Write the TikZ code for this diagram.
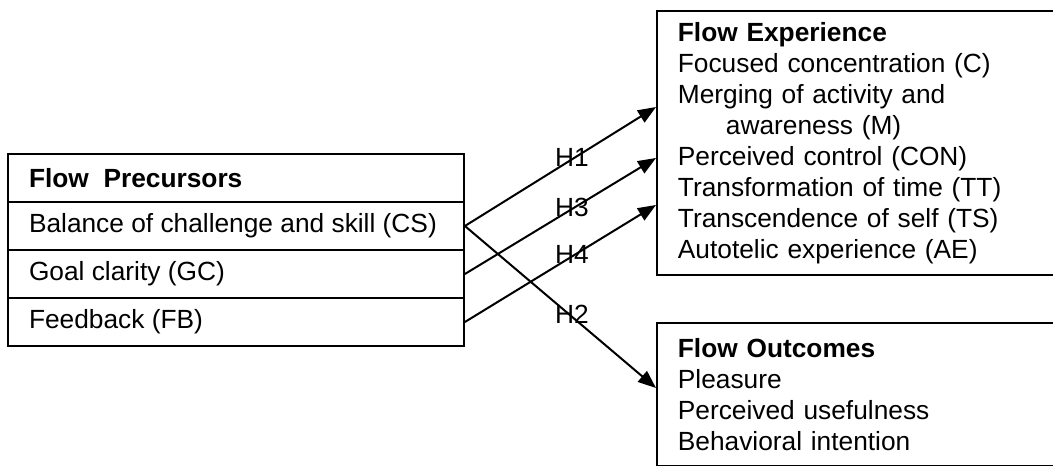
\documentclass[tikz,border=0pt]{standalone}
\usepackage{fontspec}
\setmainfont{Liberation Sans}
\usetikzlibrary{arrows.meta}
\begin{document}
\begin{tikzpicture}[
  x=1pt, y=-1pt,
  every node/.style={font=\fontsize{26.3}{31}\selectfont},
  row/.style={draw, line width=1.8pt, inner xsep=21pt, inner ysep=0pt, minimum height=48pt},
  panel/.style={draw, line width=1.8pt, anchor=north west, text width=368pt, inner xsep=21pt, align=left},
  arr/.style={-{Triangle[length=18pt,width=14pt]}, line width=2pt},
  lbl/.style={inner sep=0pt}
]
\clip (0,0) rectangle (1053,466);
\foreach \y/\name/\txt in {178/pre/{\textbf{Flow~~Precursors}},226/cs/{Balance of challenge and skill (CS)},274/gc/{Goal clarity (GC)},322/fb/{Feedback (FB)}}
  \node[row] (\name) at (236,\y) {\makebox[414pt][l]{\txt}};
\node[panel, minimum height=264pt] (exp) at (656,10) {\textbf{Flow Experience}\\
  Focused concentration (C)\\
  Merging of activity and\\
  \hspace*{48pt}awareness (M)\\
  Perceived control (CON)\\
  Transformation of time (TT)\\
  Transcendence of self (TS)\\
  Autotelic experience (AE)};
\node[panel, minimum height=143pt] (out) at (656,322) {\textbf{Flow Outcomes}\\
  Pleasure\\
  Perceived usefulness\\
  Behavioral intention};
\coordinate (e1) at ([yshift=-97pt]exp.north west);
\coordinate (e3) at ([yshift=-148pt]exp.north west);
\coordinate (e4) at ([yshift=-195pt]exp.north west);
\coordinate (o2) at ([yshift=-66pt]out.north west);
\foreach \src/\dst/\lab in {cs/e1/H1,gc/e3/H3,fb/e4/H4,cs/o2/H2}
  \draw[arr] (\src.east) -- node[lbl, pos=0.56, yshift=2pt] {\lab} (\dst);
\end{tikzpicture}
\end{document}
